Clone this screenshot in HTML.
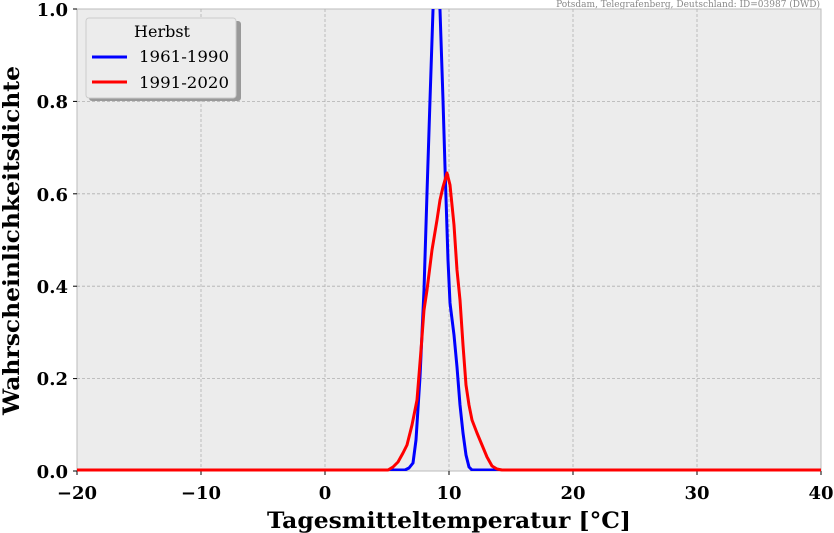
<!DOCTYPE html>
<html><head><meta charset="utf-8"><style>body{margin:0;background:#fff}svg{display:block}</style></head><body>
<svg width="834" height="533" xmlns="http://www.w3.org/2000/svg" font-family="DejaVu Serif, Liberation Serif, serif">
<rect x="77" y="9" width="744" height="462" fill="#ececec" stroke="#bbb"/>
<g stroke="#b0b0b0" stroke-dasharray="3,2" stroke-width="0.8">
<line x1="201" y1="9" x2="201" y2="471"/><line x1="325" y1="9" x2="325" y2="471"/><line x1="449" y1="9" x2="449" y2="471"/><line x1="573" y1="9" x2="573" y2="471"/><line x1="697" y1="9" x2="697" y2="471"/>
<line x1="77" y1="101.4" x2="821" y2="101.4"/><line x1="77" y1="193.8" x2="821" y2="193.8"/><line x1="77" y1="286.2" x2="821" y2="286.2"/><line x1="77" y1="378.6" x2="821" y2="378.6"/>
</g>
<g stroke="#000"><line x1="77" y1="471" x2="77" y2="475"/><line x1="201" y1="471" x2="201" y2="475"/><line x1="325" y1="471" x2="325" y2="475"/><line x1="449" y1="471" x2="449" y2="475"/><line x1="573" y1="471" x2="573" y2="475"/><line x1="697" y1="471" x2="697" y2="475"/><line x1="821" y1="471" x2="821" y2="475"/>
<line x1="73" y1="9" x2="77" y2="9"/><line x1="73" y1="101.4" x2="77" y2="101.4"/><line x1="73" y1="193.8" x2="77" y2="193.8"/><line x1="73" y1="286.2" x2="77" y2="286.2"/><line x1="73" y1="378.6" x2="77" y2="378.6"/><line x1="73" y1="471" x2="77" y2="471"/></g>
<svg x="77" y="9" width="744" height="462" overflow="hidden" viewBox="77 9 744 462">
<polyline fill="none" stroke="#00f" stroke-width="3" stroke-linejoin="round" points="77,470 405,470 409,468 413,463 416,440 420,377 424,290 427,193 430,100 433,10 434,0 439,0 440,10 443,100 445,167 448,260 450,303 454,335 457,367 460,405 463,433 466,455 469,467 472,470 821,470"/>
</svg>
<polyline fill="none" stroke="#f00" stroke-width="3" stroke-linejoin="round" points="77,470 388,470 393,467 398,462 403,453 407,445 412,425 417,400 421,350 424,310 427,290 432,250 437,220 440,200 443,187 447,173 450,185 454,225 457,270 460,300 463,345 466,385 469,405 472,420 477,433 482,445 487,457 492,466 497,469 502,470 821,470"/>
<g font-weight="bold" font-size="18" text-anchor="middle">
<text x="77" y="499">−20</text><text x="201" y="499">−10</text><text x="325" y="499">0</text><text x="449" y="499">10</text><text x="573" y="499">20</text><text x="697" y="499">30</text><text x="821" y="499">40</text>
</g>
<g font-weight="bold" font-size="18" text-anchor="end">
<text x="68" y="16">1.0</text><text x="68" y="108">0.8</text><text x="68" y="201">0.6</text><text x="68" y="293">0.4</text><text x="68" y="385">0.2</text><text x="68" y="478">0.0</text>
</g>
<text x="267" y="528" font-weight="bold" font-size="22" textLength="364" lengthAdjust="spacingAndGlyphs">Tagesmitteltemperatur [°C]</text>
<text transform="translate(19,415) rotate(-90)" font-weight="bold" font-size="22" textLength="349" lengthAdjust="spacingAndGlyphs">Wahrscheinlichkeitsdichte</text>
<text x="820" y="7" font-size="9" fill="#888" text-anchor="end">Potsdam, Telegrafenberg, Deutschland: ID=03987 (DWD)</text>
<rect x="89" y="21" width="152" height="80" rx="3" fill="#999"/>
<rect x="86" y="18" width="150" height="80" rx="3" fill="#ececec" stroke="#ccc"/>
<text x="162" y="37" font-size="16" text-anchor="middle">Herbst</text>
<line x1="92" y1="57" x2="127" y2="57" stroke="#00f" stroke-width="3"/>
<line x1="92" y1="82" x2="127" y2="82" stroke="#f00" stroke-width="3"/>
<text x="139" y="62" font-size="16" textLength="90" lengthAdjust="spacingAndGlyphs">1961-1990</text>
<text x="139" y="88" font-size="16" textLength="90" lengthAdjust="spacingAndGlyphs">1991-2020</text>
</svg>
</body></html>
